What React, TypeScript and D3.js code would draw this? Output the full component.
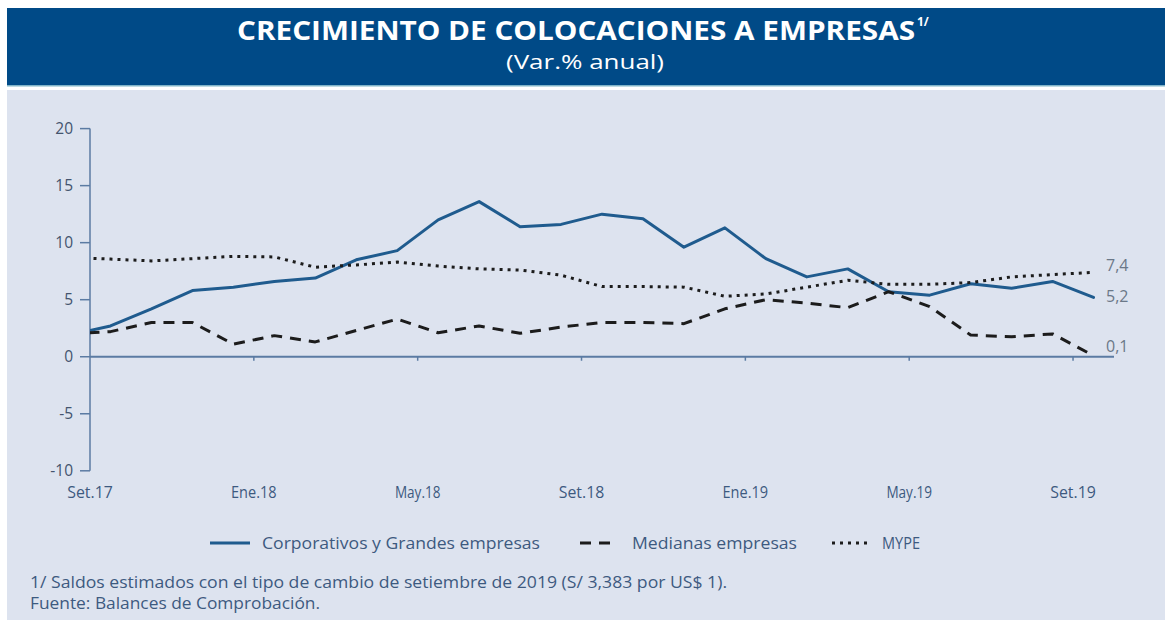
import React from "react";
import * as d3 from "d3";

// Months from Ago.17 to Set.19 (Ago.17 lies before the axis start and is clipped)
const months = [
  "Ago.17", "Set.17", "Oct.17", "Nov.17", "Dic.17", "Ene.18", "Feb.18", "Mar.18", "Abr.18",
  "May.18", "Jun.18", "Jul.18", "Ago.18", "Set.18", "Oct.18", "Nov.18", "Dic.18", "Ene.19",
  "Feb.19", "Mar.19", "Abr.19", "May.19", "Jun.19", "Jul.19", "Ago.19", "Set.19",
];

const corporativos = [
  1.9, 2.7, 4.2, 5.8, 6.1, 6.6, 6.9, 8.5, 9.3, 12.0, 13.6, 11.4, 11.6, 12.5, 12.1, 9.6, 11.3,
  8.6, 7.0, 7.7, 5.7, 5.4, 6.4, 6.0, 6.6, 5.2,
];
const medianas = [
  2.0, 2.2, 3.0, 3.0, 1.1, 1.85, 1.3, 2.3, 3.3, 2.1, 2.7, 2.05, 2.6, 3.0, 3.0, 2.9, 4.2, 5.0,
  4.7, 4.3, 5.7, 4.4, 1.9, 1.75, 2.0, 0.1,
];
const mype = [
  8.7, 8.56, 8.4, 8.6, 8.8, 8.75, 7.85, 8.05, 8.3, 7.95, 7.7, 7.6, 7.15, 6.15, 6.15, 6.1, 5.3,
  5.5, 6.1, 6.7, 6.35, 6.35, 6.5, 7.0, 7.2, 7.4,
];

const xTickLabels = ["Set.17", "Ene.18", "May.18", "Set.18", "Ene.19", "May.19", "Set.19"];
const xTickMonths = [0, 4, 8, 12, 16, 20, 24];
const yTicks = [20, 15, 10, 5, 0, -5, -10];

const endLabels = ["5,2", "0,1", "7,4"];

const W = 1165;
const H = 620;

export default function App() {
  // month offset from start of Set.17; data points at mid-month
  const x = d3.scaleLinear().domain([0, 25]).range([90, 1114]);
  const y = d3.scaleLinear().domain([-10, 20]).range([470.8, 128.6]);
  const px = (i: number) => x(i - 0.5);

  const line = d3
    .line<number>()
    .x((_, i) => px(i))
    .y((v) => y(v));

  const axisColor = "#5b7ba3";
  const textColor = "#3d5a80";
  const font = "'Open Sans', 'Noto Sans', sans-serif";

  const series = [
    { name: "Corporativos y Grandes empresas", values: corporativos, color: "#1f5b8e", dash: "", cap: "round" },
    { name: "Medianas empresas", values: medianas, color: "#1c1c1c", dash: "11 8", cap: "butt" },
    { name: "MYPE", values: mype, color: "#1c1c1c", dash: "3 5", cap: "butt" },
  ];

  const last = months.length - 1;
  const endLabelY = [y(corporativos[last]) + 5, y(medianas[last]) - 4, y(mype[last]) - 1];

  const legendItems = [
    { x0: 210, x1: 250, tx: 262, w: 278 },
    { x0: 580, x1: 617, tx: 632, w: 165 },
    { x0: 832, x1: 872, tx: 882, w: 38 },
  ];

  return (
    <svg
      width={W}
      height={H}
      style={{ position: "absolute", left: 0, top: 0, display: "block" }}
    >
      <rect x={0} y={0} width={W} height={H} fill="#ffffff" />
      {/* title band */}
      <rect x={7} y={8} width={W - 7} height={77} fill="#004a87" />
      <rect x={7} y={85} width={W - 7} height={1.5} fill="#7fb3c8" />
      {/* plot background */}
      <rect x={7} y={90} width={W - 7} height={H - 90} fill="#dde3ef" />

      <text
        x={576}
        y={40}
        textAnchor="middle"
        fill="#ffffff"
        fontFamily={font}
        fontWeight={700}
        fontSize={26}
        textLength={678}
        lengthAdjust="spacingAndGlyphs"
      >
        CRECIMIENTO DE COLOCACIONES A EMPRESAS
      </text>
      <text x={917} y={26} fill="#ffffff" fontFamily={font} fontWeight={700} fontSize={12}>
        1/
      </text>
      <text
        x={585}
        y={69}
        textAnchor="middle"
        fill="#ffffff"
        fontFamily={font}
        fontSize={20}
        textLength={158}
        lengthAdjust="spacingAndGlyphs"
      >
        (Var.% anual)
      </text>

      <defs>
        <clipPath id="plotClip">
          <rect x={90} y={100} width={1040} height={400} />
        </clipPath>
      </defs>

      {/* y axis */}
      <line x1={90} x2={90} y1={y(20)} y2={y(-10)} stroke={axisColor} strokeWidth={1.5} />
      {yTicks.map((t) => (
        <g key={t}>
          <line x1={80} x2={90} y1={y(t)} y2={y(t)} stroke={axisColor} strokeWidth={1.5} />
          <text
            x={73}
            y={y(t)}
            dy="0.35em"
            textAnchor="end"
            fill="#44546e"
            fontFamily={font}
            fontSize={15.5}
          >
            {t}
          </text>
        </g>
      ))}

      {/* x axis (zero line) */}
      <line x1={90} x2={x(25)} y1={y(0)} y2={y(0)} stroke={axisColor} strokeWidth={2} />
      {xTickMonths.map((m, i) => (
        <g key={m}>
          {i > 0 && (
            <line x1={x(m)} x2={x(m)} y1={y(0)} y2={y(0) + 4} stroke={axisColor} strokeWidth={1.5} />
          )}
          <text
            x={x(m)}
            y={498}
            textAnchor="middle"
            fill={textColor}
            fontFamily={font}
            fontSize={15.5}
            textLength={xTickLabels[i].length * 7.6}
            lengthAdjust="spacingAndGlyphs"
          >
            {xTickLabels[i]}
          </text>
        </g>
      ))}

      {/* lines */}
      <g clipPath="url(#plotClip)">
        {series.map((s) => (
          <path
            key={s.name}
            d={line(s.values) || ""}
            fill="none"
            stroke={s.color}
            strokeWidth={3}
            strokeDasharray={s.dash || undefined}
            strokeLinejoin="round"
            strokeLinecap={s.cap as any}
          />
        ))}
      </g>

      {/* end labels */}
      {endLabels.map((l, i) => (
        <text
          key={l}
          x={1106}
          y={endLabelY[i]}
          fill="#6b7888"
          fontFamily={font}
          fontSize={16}
        >
          {l}
        </text>
      ))}

      {/* legend */}
      {series.map((s, i) => (
        <g key={s.name}>
          <line
            x1={legendItems[i].x0}
            x2={legendItems[i].x1}
            y1={543}
            y2={543}
            stroke={s.color}
            strokeWidth={3}
            strokeDasharray={s.dash || undefined}
          />
          <text
            x={legendItems[i].tx}
            y={543}
            dy="0.35em"
            fill={textColor}
            fontFamily={font}
            fontSize={17}
            textLength={legendItems[i].w}
            lengthAdjust="spacingAndGlyphs"
          >
            {s.name}
          </text>
        </g>
      ))}

      {/* footnotes */}
      <text
        x={30}
        y={588}
        fill={textColor}
        fontFamily={font}
        fontSize={16}
        textLength={697}
        lengthAdjust="spacingAndGlyphs"
      >
        1/  Saldos estimados con el tipo de cambio de setiembre de 2019 (S/ 3,383 por US$ 1).
      </text>
      <text
        x={30}
        y={609}
        fill={textColor}
        fontFamily={font}
        fontSize={16}
        textLength={290}
        lengthAdjust="spacingAndGlyphs"
      >
        Fuente: Balances de Comprobación.
      </text>
    </svg>
  );
}
